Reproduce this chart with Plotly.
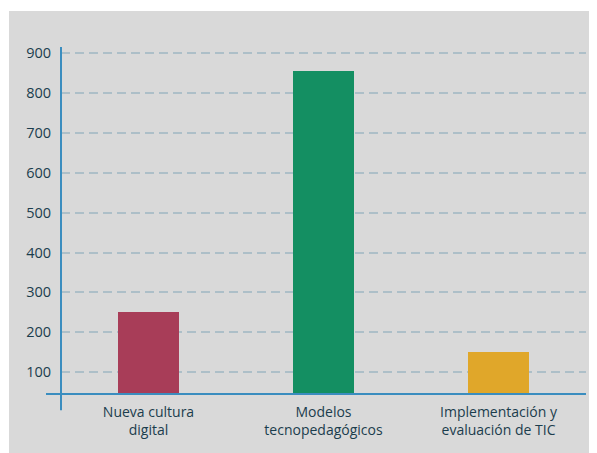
import plotly.graph_objects as go

categories = ["Nueva cultura<br>digital", "Modelos<br>tecnopedagógicos", "Implementación y<br>evaluación de TIC"]
values = [250, 855, 150]
colors = ["#a83d58", "#148f62", "#e0a72a"]
y_ticks = [100, 200, 300, 400, 500, 600, 700, 800, 900]

GRAY = "#d9d9d9"
AXIS = "#3a8dbf"
TEXT = "#1b3d4d"
FONT = "Open Sans"

fig = go.Figure(go.Bar(
    x=categories, y=values, marker=dict(color=colors, line=dict(width=0)),
    width=0.354,
))

OFF = 8  # page body margin
W, H = 597 - OFF, 453 - OFF
L = 61 - OFF
T = 47 - OFF
R = W - (586 - OFF)
B = H - (393.7 - OFF)
pw = W - L - R
ph = H - T - B

def px(x):
    return (x - OFF - L) / pw

def py(y):
    return (H - B - (y - OFF)) / ph

fig.update_layout(
    width=W, height=H,
    margin=dict(l=L, r=R, t=T, b=B, pad=0),
    paper_bgcolor="white",
    plot_bgcolor=GRAY,
    showlegend=False,
    font=dict(family=FONT, color=TEXT, size=14),
    bargap=0,
    shapes=[
        dict(type="rect", xref="paper", yref="paper", layer="below",
             x0=px(9), x1=px(610), y0=py(11), y1=py(470),
             fillcolor=GRAY, line=dict(width=0)),
        dict(type="line", xref="paper", yref="paper", layer="above",
             x0=px(46), x1=px(586), y0=0, y1=0,
             line=dict(color=AXIS, width=2)),
        dict(type="line", xref="paper", yref="paper", layer="above",
             x0=0, x1=0, y0=py(410), y1=1,
             line=dict(color=AXIS, width=2)),
    ],
)

fig.update_xaxes(
    showline=False, showgrid=False, zeroline=False, ticks="",
    tickfont=dict(size=14, color=TEXT, family=FONT),
    ticklabelstandoff=8,
)
fig.update_yaxes(
    range=[45, 916], tickvals=y_ticks, ticks="",
    showline=False, zeroline=False,
    showgrid=True, gridcolor="#adbfc8", gridwidth=1.5, griddash="9px,5px",
    tickfont=dict(size=14.5, color=TEXT, family=FONT),
    ticklabelstandoff=9,
)

fig.write_html("out.html")
